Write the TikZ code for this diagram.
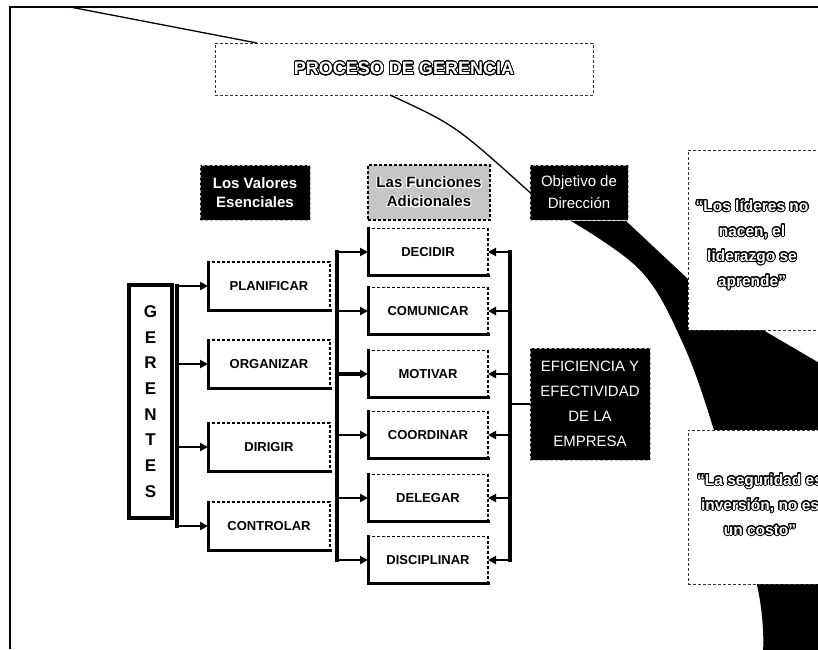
\documentclass[tikz,border=0pt]{standalone}
\usepackage{fontspec}
\setmainfont{Liberation Sans}
\usepackage{contour}
\contourlength{0.9pt}
\contournumber{32}
\usetikzlibrary{arrows.meta}
\newcommand{\olt}[1]{{\color{white}\contour{black}{#1}}}
\newcommand{\ilt}[1]{{\color{black}\contour{white}{#1}}}
\begin{document}
\begin{tikzpicture}[x=1pt,y=-1pt,
  every node/.style={inner sep=0pt,outer sep=0pt},
  frameline/.style={line width=1.3pt,black},
  solidedge/.style={solid,line width=3pt,line cap=rect},
  valbox/.style={draw,densely dashed,line width=1.4pt,fill=white,
    minimum width=122pt,minimum height=48pt,
    font=\fontsize{13}{15}\selectfont\bfseries},
  funbox/.style={valbox,minimum width=120pt,minimum height=47pt},
  darkhdr/.style={fill=black,draw=gray!60,densely dashed,line width=1pt,text=white,align=center},
  lighthdr/.style={fill=gray!45,draw=black,densely dashed,line width=1.2pt,align=center},
  quotebox/.style={draw=black!80,densely dashed,line width=0.9pt,fill=white},
  gerbox/.style={draw,line width=3.5pt,fill=white,minimum width=43pt,minimum height=233pt,
    align=center,font=\fontsize{17}{25.7}\selectfont\bfseries},
  bus/.style={line width=3.2pt,line cap=rect},
  arr/.style={line width=2.8pt,-{Triangle[length=8pt,width=8pt]}},
  thinline/.style={line width=1.3pt},
]
\useasboundingbox (0,0) rectangle (818,649);
\fill[white] (0,0) rectangle (818,649);

% frame lines
\draw[frameline] (818,7) -- (10,7) -- (10,649);

% black beam
\fill[black] plot[smooth,tension=0.6] coordinates {(571,221) (640,270) (680,337) (713,427) (757,585) (763,652)}
  -- (821,652) -- (821,364) -- (763,330) -- (688,279) -- (626,221) -- cycle;

% quote boxes
\node[quotebox,minimum width=134pt,minimum height=180pt] (q1) at (755,240) {};
\node[font=\fontsize{15.5}{25}\selectfont\bfseries,align=center] (q1t) at (752,245)
  {\olt{“Los líderes no}\\\olt{nacen, el}\\\olt{liderazgo se}\\\olt{aprende”}};
\node[quotebox,minimum width=134pt,minimum height=154pt] (q2) at (755,507) {};
\node[font=\fontsize{15.5}{25}\selectfont\bfseries,align=center] (q2t) at (760,505)
  {\olt{“La seguridad es}\\\olt{inversión, no es}\\\olt{un costo”}};

% title
\node[quotebox,minimum width=378pt,minimum height=52pt] (proc) at (404,69)
  {\fontsize{18}{20}\selectfont\bfseries\olt{PROCESO DE GERENCIA}};

% headers
\node[darkhdr,minimum width=110pt,minimum height=55pt,font=\fontsize{15}{19}\selectfont\bfseries] (valh) at (255,192.5)
  {Los Valores\\Esenciales};
\node[lighthdr,minimum width=122pt,minimum height=55pt,font=\fontsize{15}{19}\selectfont\bfseries] (funh) at (429,192.5)
  {\ilt{Las Funciones}\\\ilt{Adicionales}};
\node[darkhdr,minimum width=98pt,minimum height=55pt,font=\fontsize{15}{22}\selectfont] (obj) at (579,192.5)
  {Objetivo de\\Dirección};
\node[darkhdr,minimum width=120pt,minimum height=112pt,font=\fontsize{15}{25}\selectfont] (efi) at (590,404)
  {EFICIENCIA Y\\EFECTIVIDAD\\DE LA\\EMPRESA};

% connectors at top
\coordinate (tl) at (70,7);
\coordinate (procin) at (257,43);
\coordinate (procout) at (390,95);
\draw[thinline] (tl) -- (procin);
\draw[thinline] (procout) .. controls (455,125) .. (obj.west);

% GERENTES
\node[gerbox] (ger) at (150.5,401.5) {G\\E\\R\\E\\N\\T\\E\\S};

% value boxes
\node[valbox] (plan) at (269,286) {PLANIFICAR};
\node[valbox] (org) at (269,364) {ORGANIZAR};
\node[valbox] (dir) at (269,447) {DIRIGIR};
\node[valbox] (ctrl) at (269,526) {CONTROLAR};

% function boxes
\node[funbox] (dec) at (428,252) {DECIDIR};
\node[funbox] (com) at (428,311) {COMUNICAR};
\node[funbox] (mot) at (428,374) {MOTIVAR};
\node[funbox] (coo) at (428,435) {COORDINAR};
\node[funbox] (del) at (428,498) {DELEGAR};
\node[funbox] (dis) at (428,560) {DISCIPLINAR};

% solid left and bottom edges of the boxes
\foreach \n in {plan,org,dir,ctrl,dec,com,mot,coo,del,dis}{
  \draw[solidedge] (\n.north west) -- (\n.south west) -- (\n.south east);
}

% buses
\coordinate (lbus) at (177,0);
\coordinate (mbus) at (337,0);
\coordinate (rbus) at (510,0);
\draw[bus] (lbus |- plan.west) -- (lbus |- ctrl.west);
\draw[bus] (mbus |- dec.west) -- (mbus |- dis.west);
\draw[bus] (rbus |- dec.east) -- (rbus |- dis.east);

% left arrows
\foreach \n in {plan,org,dir,ctrl}{
  \draw[arr] (lbus |- \n.west) -- (\n.west);
}
% middle arrows
\foreach \n in {dec,com,coo,del,dis}{
  \draw[arr] (mbus |- \n.west) -- (\n.west);
}
\draw[arr,line width=3.8pt] (mbus |- mot.west) -- (mot.west);
% right arrows
\foreach \n in {dec,com,mot,coo,del,dis}{
  \draw[arr] (rbus |- \n.east) -- (\n.east);
}
% link to efficiency box
\draw[thinline] (rbus |- efi.west) -- (efi.west);
\end{tikzpicture}
\end{document}
